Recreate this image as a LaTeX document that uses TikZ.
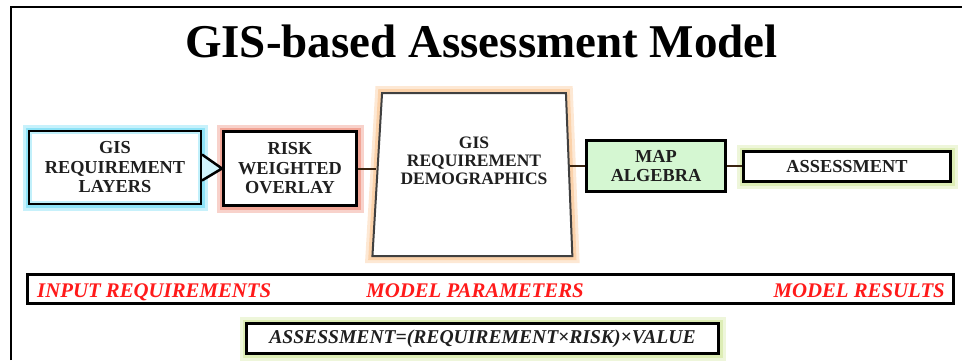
\documentclass[tikz,border=0pt]{standalone}
\usepackage{fontspec}
\setmainfont{Liberation Serif}
\usetikzlibrary{shapes.geometric}
\definecolor{glowcyan}{HTML}{8FE3F7}
\definecolor{glowred}{HTML}{F2A596}
\definecolor{gloworange}{HTML}{FBD2AA}
\definecolor{glowlime}{HTML}{DDEDB5}
\definecolor{mapgreen}{HTML}{D5F7D2}
\definecolor{labelred}{HTML}{FF1A1A}
\definecolor{linkbrown}{HTML}{3A2410}

\begin{document}
\begin{tikzpicture}[x=1pt,y=-1pt,
  box/.style={draw=black,line width=3pt,fill=white,align=center,inner sep=0pt,
    text=black!88,font=\fontsize{18.3}{19.5}\selectfont\bfseries},
  glow/.style={preaction={draw=#1!50,line width=14pt},
    preaction={draw=#1,line width=8pt}},
  redlabel/.style={inner sep=0pt,text=labelred,
    font=\fontsize{20.8}{20.8}\selectfont\bfseries\itshape},
  link/.style={line width=2pt,draw=linkbrown}]
\useasboundingbox (0,0) rectangle (962,360);
\draw [line width=2pt](11,360) -- (11,7) -- (962,7);
\node [anchor=base,font=\fontsize{47}{47}\selectfont\bfseries] (title) at (481.5,57) {GIS-based Assessment Model};
% upper row
\node [box,glow=glowcyan,minimum width=171pt,minimum height=72pt] (gisreq) at (115,167.5) {GIS\\REQUIREMENT\\LAYERS};
\draw [glowcyan!55,line width=2.5pt]([xshift=3pt,yshift=-3pt]gisreq.north west) rectangle ([xshift=-3pt,yshift=3pt]gisreq.south east);
\node [box,glow=glowred,minimum width=133pt,minimum height=74pt] (risk) at (290,168.5) {RISK\\WEIGHTED\\OVERLAY};
\node [box,glow=gloworange,draw=black!75,line width=2pt,inner sep=4pt,trapezium,trapezium left angle=87,trapezium right angle=88,
  trapezium stretches=true,minimum width=200pt,minimum height=163pt] (demo) at (474,174.5) {};
\node [align=center,inner sep=0pt,text=black!88,font=\fontsize{17.5}{18}\selectfont\bfseries] (demotext) at (474,161) {GIS\\REQUIREMENT\\DEMOGRAPHICS};
\node [box,fill=mapgreen,minimum width=139pt,minimum height=51pt] (map) at (656,166) {MAP\\ALGEBRA};
\node [box,glow=glowlime,minimum width=207pt,minimum height=30pt] (assess) at (847,166.5) {ASSESSMENT};
% connectors
\filldraw [fill=glowcyan!40,draw=black,line width=2.5pt,line join=miter]([yshift=13pt]gisreq.east) -- (risk.west) -- ([yshift=-13pt]gisreq.east);
\draw [link](risk.east) -- (risk.east -| demo.west);
\draw [link](map.west -| demo.east) -- (map.west);
\draw [link](map.east) -- (map.east -| assess.west);
% lower band
\node [draw=black,line width=3pt,fill=white,inner sep=0pt,minimum width=926pt,minimum height=29pt] (band) at (490.5,289) {};
\node [redlabel,anchor=base west] (inputlbl) at (37,297) {INPUT REQUIREMENTS};
\node [redlabel,anchor=base] (paramlbl) at (475,297) {MODEL PARAMETERS};
\node [redlabel,anchor=base east] (resultlbl) at (945,297) {MODEL RESULTS};
\node [box,glow=glowlime,minimum width=472pt,minimum height=30pt,
  font=\fontsize{19.6}{19.6}\selectfont\bfseries\itshape] (formula) at (482.5,338.5) {ASSESSMENT=(REQUIREMENT×RISK)×VALUE};
\end{tikzpicture}
\end{document}
